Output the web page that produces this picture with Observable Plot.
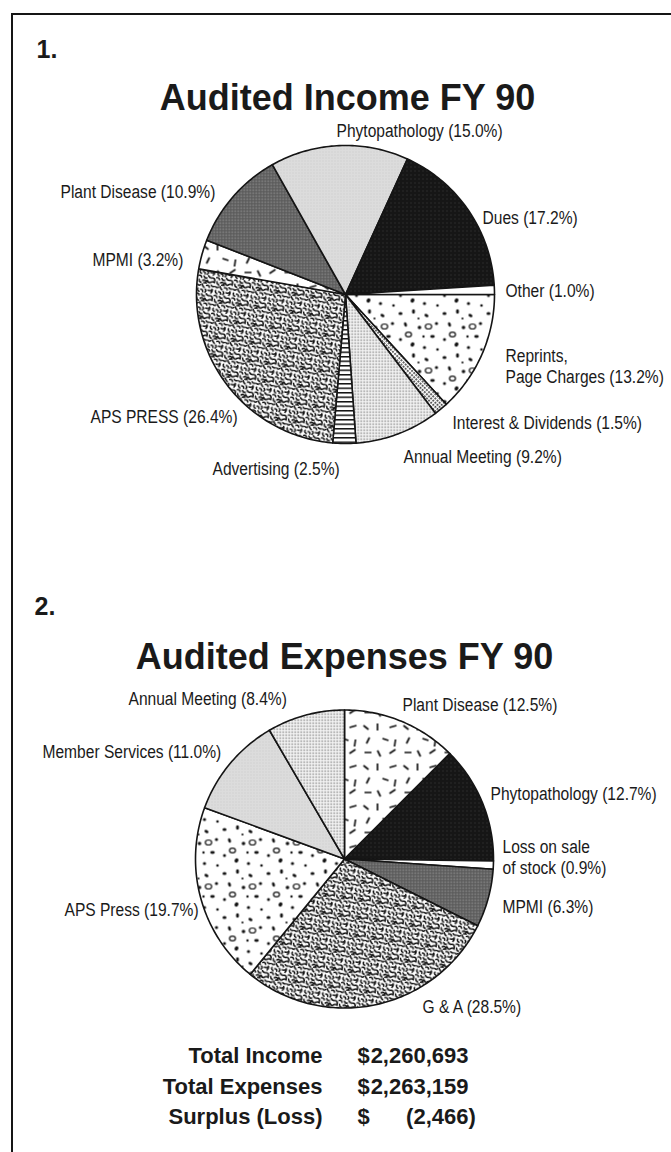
<!DOCTYPE html>
<html><head><meta charset="utf-8">
<script src="https://cdn.jsdelivr.net/npm/d3@7"></script>
<script src="https://cdn.jsdelivr.net/npm/@observablehq/plot@0.6"></script>
<style>
html,body{margin:0;padding:0;background:#fff;overflow:hidden;}
#page{position:relative;width:671px;height:1152px;overflow:hidden;background:#fff;}
#frame{position:absolute;left:11px;top:13px;right:-10px;bottom:-10px;border-left:2px solid #151515;border-top:2px solid #151515;pointer-events:none;}
.chart{position:absolute;left:0;}
</style></head><body>
<svg width="0" height="0" style="position:absolute;left:0;top:0" aria-hidden="true">
<defs>
<pattern id="p-white" width="4" height="4" patternUnits="userSpaceOnUse"><rect width="4" height="4" fill="#fff"/></pattern>
<pattern id="p-light" width="3" height="3" patternUnits="userSpaceOnUse"><rect width="3" height="3" fill="#dcdcdc"/><rect x="1" y="1" width="1" height="1" fill="#c6c6c6"/></pattern>
<pattern id="p-black" width="4" height="4" patternUnits="userSpaceOnUse"><rect width="4" height="4" fill="#161616"/><rect x="2" y="2" width="1" height="1" fill="#3c3c3c"/></pattern>
<pattern id="p-dark" width="3" height="3" patternUnits="userSpaceOnUse"><rect width="3" height="3" fill="#5a5a5a"/><rect width="1.5" height="1.5" fill="#8e8e8e"/></pattern>
<pattern id="p-grid" width="3" height="3" patternUnits="userSpaceOnUse"><rect width="3" height="3" fill="#f6f6f6"/><rect width="1.4" height="1.4" fill="#7a7a7a"/></pattern>
<pattern id="p-check" width="3" height="3" patternUnits="userSpaceOnUse" patternTransform="rotate(45)"><rect width="3" height="3" fill="#fff"/><rect width="1.8" height="1.8" fill="#444"/></pattern>
<pattern id="p-stripes" width="6" height="4.5" patternUnits="userSpaceOnUse"><rect width="6" height="4.5" fill="#fff"/><rect width="6" height="1.5" fill="#111"/></pattern>
<pattern id="p-dots" width="44" height="44" patternUnits="userSpaceOnUse">
  <rect width="44" height="44" fill="#fff"/>
  <g fill="#111">
    <ellipse cx="4" cy="5" rx="2" ry="1.6"/>
    <ellipse cx="17" cy="3" rx="1.5" ry="2.2"/>
    <ellipse cx="30" cy="7" rx="2.2" ry="1.4" transform="rotate(30 30 7)"/>
    <ellipse cx="40" cy="15" rx="1.6" ry="1.6"/>
    <ellipse cx="9" cy="16" rx="1.4" ry="2.3" transform="rotate(-20 9 16)"/>
    <ellipse cx="23" cy="19" rx="1.8" ry="1.8"/>
    <ellipse cx="36" cy="28" rx="2.3" ry="1.4"/>
    <ellipse cx="4" cy="31" rx="1.5" ry="1.5"/>
    <ellipse cx="16" cy="36" rx="1.8" ry="2.2" transform="rotate(40 16 36)"/>
    <ellipse cx="28" cy="39" rx="1.6" ry="1.6"/>
    <ellipse cx="41" cy="41" rx="1.3" ry="1.3"/>
    <ellipse cx="22" cy="10" rx="1.1" ry="1.1"/>
    <ellipse cx="27" cy="28" rx="1.2" ry="1.2"/>
  </g>
  <g fill="none" stroke="#111" stroke-width="1.2">
    <ellipse cx="32" cy="18" rx="3.2" ry="2.5"/>
    <ellipse cx="12" cy="26" rx="3" ry="2.4"/>
  </g>
</pattern>
<pattern id="p-dashes" width="40" height="40" patternUnits="userSpaceOnUse">
  <rect width="40" height="40" fill="#fff"/>
  <path d="M3,5l5,4M17,3l0,7M29,7l7,-2M9,17l-3,6M22,18l6,2M35,19l-1,7M4,32l7,0M17,30l3,6M29,33l6,-4" stroke="#111" stroke-width="1.7" fill="none"/>
</pattern>
<pattern id="p-squiggle" width="18" height="18" patternUnits="userSpaceOnUse" patternTransform="rotate(8)">
  <rect width="18" height="18" fill="#fff"/>
  <g transform="scale(0.75)">
  <path d="M1,2q2,2 4,0M7,1q1,3 3,4M13,2q3,-1 4,2M19,1q2,2 4,1M2,7q-1,3 2,4M6,8q3,0 3,3M12,7q2,2 0,4M16,8q3,1 5,-1M21,6q1,3 -1,5M1,14q3,-1 4,2M8,14q1,3 4,2M14,13q2,3 5,2M20,15q3,0 3,4M2,19q0,3 3,4M7,20q3,-2 5,1M13,19q1,3 4,3M18,21q3,-2 5,0M9,23q2,-1 3,0" stroke="#111" stroke-width="2.1" fill="none" stroke-linecap="round"/>
  </g>
</pattern>
</defs></svg>
<div id="page"><div id="c1" class="chart" style="top:0"></div><div id="c2" class="chart" style="top:560px"></div><div id="frame"></div></div>
<script>
// ---------- data ----------
const incomeCategories = ["Reprints,\nPage Charges", "Interest & Dividends", "Annual Meeting", "Advertising", "APS PRESS", "MPMI", "Plant Disease", "Phytopathology", "Dues", "Other"];
const incomeShares = [13.2, 1.5, 9.2, 2.5, 26.4, 3.2, 10.9, 15.0, 17.2, 1.0];
const expenseCategories = ["Plant Disease", "Phytopathology", "Loss on sale\nof stock", "MPMI", "G & A", "APS Press", "Member Services", "Annual Meeting"];
const expenseShares = [12.5, 12.7, 0.9, 6.3, 28.5, 19.7, 11.0, 8.4];
const chartTitles = ["Audited Income FY 90", "Audited Expenses FY 90"];
const chartNumbers = ["1.", "2."];
const totalLabels = ["Total Income", "Total Expenses", "Surplus (Loss)"];
const totalIncome = 2260693;
const totalExpenses = 2263159;
const totalValues = [totalIncome, totalExpenses, totalIncome - totalExpenses];

// ---------- style / layout ----------
const FILLS = [
  ["p-dots", "p-check", "p-grid", "p-stripes", "p-squiggle", "p-dashes", "p-dark", "p-light", "p-black", "p-white"],
  ["p-dashes", "p-black", "p-white", "p-dark", "p-squiggle", "p-dots", "p-light", "p-grid"]
];
const LAYOUT = [
  {el: "#c1", top: 0, height: 560, cx: 345, cy: 294, r: 149, start: 90,
   num: [36, 57], title: [347, 109],
   labels: [[505, 382], [452, 428], [403, 462], [212, 474], [90, 422], [92, 265], [60, 197], [336, 136], [482, 223], [505, 296]]},
  {el: "#c2", top: 560, height: 592, cx: 344, cy: 858.5, r: 149, start: 0,
   num: [34, 614], title: [344, 668],
   labels: [[402, 710], [490, 799], [502, 873], [502, 912], [422, 1012], [64, 915], [42, 757], [128, 704]]}
];
const TOTALS = {labelEnd: 322, dollar: 357, valueEnd: 468, rows: [1062, 1093, 1123]};
const LABEL_FONT = "'Liberation Sans', Arial, Helvetica, sans-serif";
const INK = "#1a1a1a";

function slicePolygons(cats, shares, startDeg) {
  const s = startDeg * Math.PI / 180;
  const arcs = d3.pie().sort(null).value(d => d).startAngle(s).endAngle(s + 2 * Math.PI)(shares);
  const rows = [];
  arcs.forEach((a, i) => {
    const n = Math.max(2, Math.ceil((a.endAngle - a.startAngle) / (Math.PI / 180)));
    rows.push({cat: i, x: 0, y: 0});
    for (let k = 0; k <= n; k++) {
      const t = a.startAngle + (a.endAngle - a.startAngle) * k / n;
      rows.push({cat: i, x: Math.sin(t), y: -Math.cos(t)});
    }
  });
  return rows;
}

function pieChart(idx, cats, shares, extra) {
  const L = LAYOUT[idx];
  const toX = px => (px - L.cx) / L.r;
  const toY = py => (py - L.cy) / L.r;
  const rows = slicePolygons(cats, shares, L.start);
  const labelRows = cats.map((c, i) => ({
    text: `${c} (${shares[i].toFixed(1)}%)`,
    x: toX(L.labels[i][0]), y: toY(L.labels[i][1])
  }));
  const marks = [
    Plot.line(rows, {x: "x", y: "y", z: "cat", fill: d => `url(#${FILLS[idx][d.cat]})`,
      stroke: "#151515", strokeWidth: 1.6, curve: "linear-closed"}),
    Plot.text(labelRows, {x: "x", y: "y", text: "text", textAnchor: "start", lineAnchor: "bottom",
      lineHeight: 1.1, fontSize: 19, fontFamily: LABEL_FONT, fill: INK}),
    Plot.text([chartNumbers[idx]], {x: toX(L.num[0]), y: toY(L.num[1]), text: d => d, textAnchor: "start",
      lineAnchor: "bottom", fontSize: 25, fontWeight: "bold", fontFamily: LABEL_FONT, fill: INK}),
    Plot.text([chartTitles[idx]], {x: toX(L.title[0]), y: toY(L.title[1]), text: d => d, textAnchor: "middle",
      lineAnchor: "bottom", fontSize: 36, fontWeight: "bold", fontFamily: LABEL_FONT, fill: INK})
  ];
  if (extra) marks.push(...extra(toX, toY));
  const svg = Plot.plot({
    width: 671, height: L.height, margin: 0,
    style: {background: "transparent", overflow: "visible"},
    x: {domain: [-1, 1], range: [L.cx - L.r, L.cx + L.r], axis: null},
    y: {domain: [-1, 1], range: [L.cy - L.top - L.r, L.cy - L.top + L.r], axis: null},
    color: {type: "identity"},
    marks
  });
  // narrow the label face (Helvetica Narrow look)
  svg.querySelectorAll('g[font-size="19"] text').forEach(t => {
    const tr = t.getAttribute("transform") || "";
    t.setAttribute("transform", tr + " scale(0.82,1)");
  });
  document.querySelector(L.el).append(svg);
}

pieChart(0, incomeCategories, incomeShares);
pieChart(1, expenseCategories, expenseShares, (toX, toY) => {
  const fmt = d3.format(",");
  const rows = totalLabels.map((l, i) => ({label: l, v: totalValues[i], y: toY(TOTALS.rows[i])}));
  const common = {fontSize: 22, fontWeight: "bold", fontFamily: LABEL_FONT, fill: INK, lineAnchor: "bottom"};
  return [
    Plot.text(rows, {...common, x: toX(TOTALS.labelEnd), y: "y", text: "label", textAnchor: "end"}),
    Plot.text(rows, {...common, x: toX(TOTALS.dollar), y: "y", text: () => "$", textAnchor: "start"}),
    Plot.text(rows, {...common, x: d => toX(TOTALS.valueEnd + (d.v < 0 ? 7.3 : 0)), y: "y",
      text: d => d.v < 0 ? `(${fmt(-d.v)})` : fmt(d.v), textAnchor: "end"})
  ];
});
</script>
</body></html>
